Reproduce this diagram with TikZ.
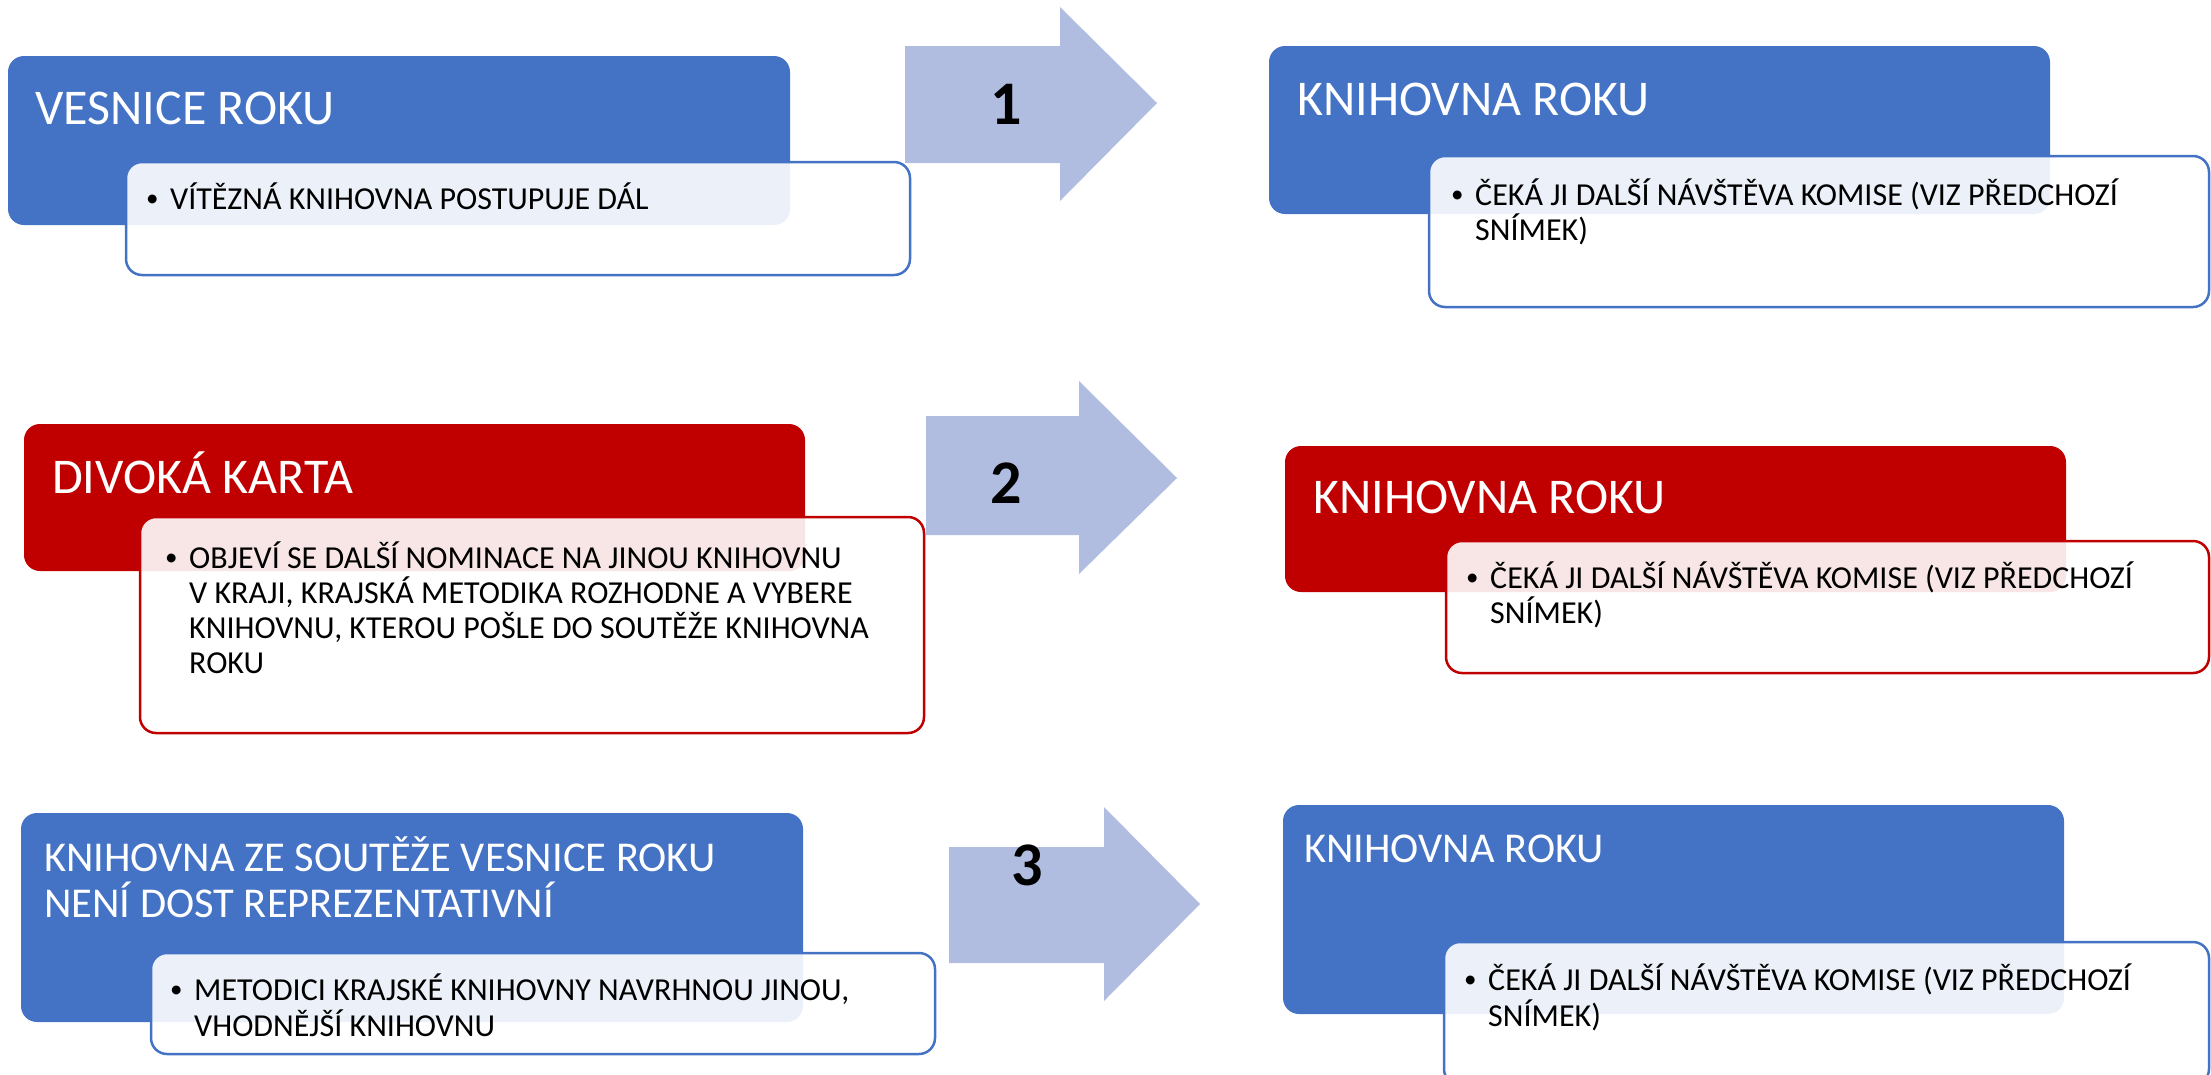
\documentclass[tikz,border=0pt]{standalone}
\usepackage{fontspec}
\setmainfont{Carlito}
\usetikzlibrary{fit}
\definecolor{cblue}{HTML}{4472C4}
\definecolor{cred}{HTML}{C00000}
\definecolor{carrow}{HTML}{B0BDE0}
\tikzset{
 hdr/.style={fill=#1, rounded corners=16pt, inner sep=0pt, draw=none},
 sub/.style={draw=#1, line width=2.5pt, fill=white, fill opacity=0.9, rounded corners=16pt, inner sep=0pt},
 ttl/.style={text=white, anchor=base west, inner sep=0pt, font=\fontsize{50}{60}\selectfont},
 ttlsmall/.style={text=white, anchor=base west, inner sep=0pt, font=\fontsize{42.5}{46}\selectfont},
 txt/.style={text=black, anchor=base west, inner sep=0pt, font=\fontsize{32}{35}\selectfont},
 bul/.style={text=black, anchor=base west, inner sep=0pt, font=\fontsize{25}{30}\selectfont},
 num/.style={anchor=base, inner sep=0pt, font=\bfseries\fontsize{62}{70}\selectfont},
 arr/.style={fill=carrow, draw=none},
}
\begin{document}
\begin{tikzpicture}[x=1pt,y=-1pt]
\useasboundingbox (0,0) rectangle (2211,1074);
\clip (0,0) rectangle (2211,1074);

% ---------- Row 1 ----------
\node[hdr=cblue, fit={(8,56) (790,225)}] (a1) {};
\node[sub=cblue, fit={(126,162) (910,275)}] (b1) {};
\node[ttl] (t1) at (35,124) {VESNICE ROKU};
\node[bul] (d1) at (146,206) {•};
\node[txt] (s1) at (170,209) {VÍTĚZNÁ KNIHOVNA POSTUPUJE DÁL};

\fill[arr] (905,46) -- (1060,46) -- (1060,7) -- (1157,103) -- (1060,201) -- (1060,163) -- (905,163) -- cycle;
\node[num] (n1) at (1006,124) {1};

\node[hdr=cblue, fit={(1269,46) (2050,214)}] (c1) {};
\node[sub=cblue, fit={(1429,156) (2209,307)}] (e1) {};
\node[ttl] (t2) at (1297,115) {KNIHOVNA ROKU};
\node[bul] (d2) at (1451,202) {•};
\node[txt] (s2a) at (1475,205) {ČEKÁ JI DALŠÍ NÁVŠTĚVA KOMISE (VIZ PŘEDCHOZÍ};
\node[txt] (s2b) at (1475,240) {SNÍMEK)};

% ---------- Row 2 ----------
\node[hdr=cred, fit={(24,424) (805,571)}] (a2) {};
\node[sub=cred, fit={(140,517) (924,733)}] (b2) {};
\node[ttl] (t3) at (52,493) {DIVOKÁ KARTA};
\node[bul] (d3) at (165,565) {•};
\node[txt] (s3a) at (189,568) {OBJEVÍ SE DALŠÍ NOMINACE NA JINOU KNIHOVNU};
\node[txt] (s3b) at (189,603) {V KRAJI, KRAJSKÁ METODIKA ROZHODNE A VYBERE};
\node[txt] (s3c) at (189,638) {KNIHOVNU, KTEROU POŠLE DO SOUTĚŽE KNIHOVNA};
\node[txt] (s3d) at (189,673) {ROKU};

\fill[arr] (926,416) -- (1079,416) -- (1079,381) -- (1177,478) -- (1079,574) -- (1079,535) -- (926,535) -- cycle;
\node[num] (n2) at (1006,503) {2};

\node[hdr=cred, fit={(1285,446) (2066,592)}] (c2) {};
\node[sub=cred, fit={(1446,541) (2209,673)}] (e2) {};
\node[ttl] (t4) at (1313,513) {KNIHOVNA ROKU};
\node[bul] (d4) at (1466,585) {•};
\node[txt] (s4a) at (1490,588) {ČEKÁ JI DALŠÍ NÁVŠTĚVA KOMISE (VIZ PŘEDCHOZÍ};
\node[txt] (s4b) at (1490,623) {SNÍMEK)};

% ---------- Row 3 ----------
\node[hdr=cblue, fit={(21,813) (803,1022)}] (a3) {};
\node[sub=cblue, fit={(151,953) (935,1054)}] (b3) {};
\node[ttlsmall] (t5a) at (44,871) {KNIHOVNA ZE SOUTĚŽE VESNICE ROKU};
\node[ttlsmall] (t5b) at (44,917) {NENÍ DOST REPREZENTATIVNÍ};
\node[bul] (d5) at (170,997) {•};
\node[txt] (s5a) at (194,1000) {METODICI KRAJSKÉ KNIHOVNY NAVRHNOU JINOU,};
\node[txt] (s5b) at (194,1036) {VHODNĚJŠÍ KNIHOVNU};

\fill[arr] (949,847) -- (1104,847) -- (1104,807) -- (1200,904) -- (1104,1001) -- (1104,963) -- (949,963) -- cycle;
\node[num] (n3) at (1027,885) {3};

\node[hdr=cblue, fit={(1283,805) (2064,1014)}] (c3) {};
\node[sub=cblue, fit={(1444,942) (2209,1085)}] (e3) {};
\node[ttlsmall] (t6) at (1304,862) {KNIHOVNA ROKU};
\node[bul] (d6) at (1464,987) {•};
\node[txt] (s6a) at (1488,990) {ČEKÁ JI DALŠÍ NÁVŠTĚVA KOMISE (VIZ PŘEDCHOZÍ};
\node[txt] (s6b) at (1488,1026) {SNÍMEK)};
\end{tikzpicture}
\end{document}
